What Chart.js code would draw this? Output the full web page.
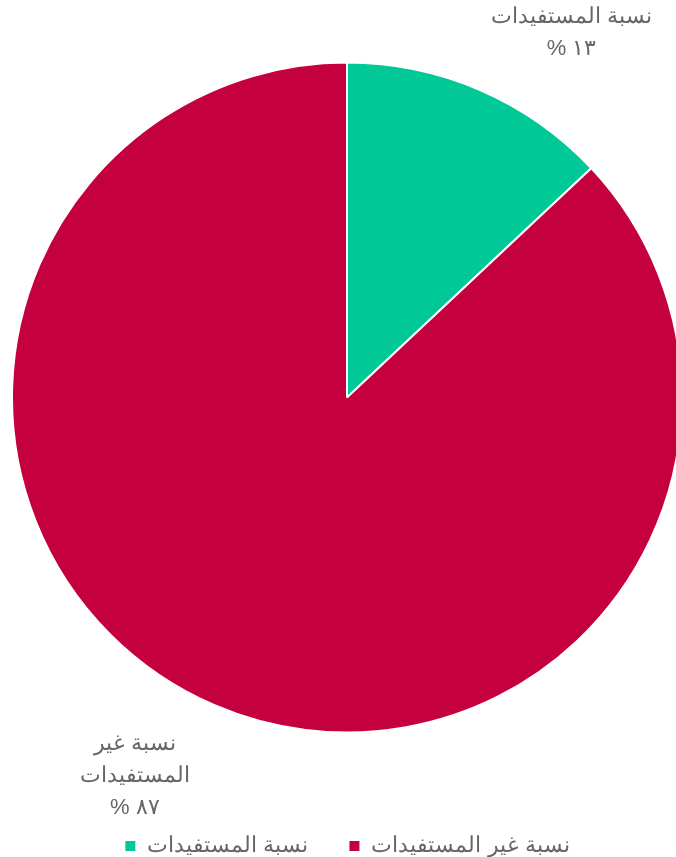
<!DOCTYPE html>
<html lang="ar">
<head>
<meta charset="utf-8">
<script src="https://cdn.jsdelivr.net/npm/chart.js@4"></script>
<style>
  html, body { margin: 0; padding: 0; overflow: hidden; background: #fff; }
  #canvas { display: block; margin-left: 11px; }
</style>
</head>
<body>
<canvas id="canvas" width="672" height="867"></canvas>
<script>
const categories = ['نسبة المستفيدات', 'نسبة غير المستفيدات']
const values = [13, 87]
const colors = ['#00c897', '#c5003e']

const fontFamily = 'Arial, sans-serif'
const fontSize = 22

// 13 -> ١٣
function arabicDigits(n) {
  return String(n).replace(/\d/g, d => '٠١٢٣٤٥٦٧٨٩'[d])
}

// split a label into lines no wider than maxWidth
function wrapText(ctx, text, maxWidth) {
  const words = text.split(' ')
  const lines = []
  let line = ''
  words.forEach(word => {
    const test = line ? line + ' ' + word : word
    if (line && ctx.measureText(test).width > maxWidth) {
      lines.push(line)
      line = word
    } else {
      line = test
    }
  })
  if (line) lines.push(line)
  return lines
}

// name + percentage drawn outside each slice
const sliceLabels = {
  id: 'sliceLabels',
  afterDatasetsDraw(chart) {
    const ctx = chart.ctx
    const meta = chart.getDatasetMeta(0)
    const lineHeight = 32
    ctx.save()
    ctx.font = fontSize + 'px ' + fontFamily
    ctx.fillStyle = '#666'
    ctx.textAlign = 'center'
    ctx.textBaseline = 'middle'
    ctx.direction = 'rtl'
    meta.data.forEach((arc, i) => {
      const p = arc.getProps(['x', 'y', 'startAngle', 'endAngle', 'outerRadius'], true)
      const lines = wrapText(ctx, categories[i], 180)
      lines.push(arabicDigits(values[i]) + ' %')
      const w = Math.max(...lines.map(l => ctx.measureText(l).width))
      const h = lines.length * lineHeight
      const angle = (p.startAngle + p.endAngle) / 2 + 0.096
      const vx = Math.cos(angle)
      const vy = Math.sin(angle)
      const dist = p.outerRadius + 49
      const cx = p.x + vx * dist + vx * w / 2
      const cy = p.y + vy * dist + vy * h / 2
      lines.forEach((l, j) => {
        ctx.fillText(l, cx, cy - h / 2 + lineHeight / 2 + j * lineHeight)
      })
    })
    ctx.restore()
  }
}

const ctx = document.getElementById('canvas')

new Chart(ctx, {
  type: 'pie',
  data: {
    labels: categories,
    datasets: [{
      data: values,
      backgroundColor: colors,
      borderColor: '#fff',
      borderWidth: 2
    }]
  },
  options: {
    responsive: false,
    animation: false,
    layout: { padding: 0 },
    plugins: {
      tooltip: { enabled: false },
      legend: {
        position: 'bottom',
        labels: {
          boxWidth: 12,
          boxHeight: 12,
          padding: 40,
          color: '#666',
          font: { family: fontFamily, size: fontSize }
        }
      }
    }
  },
  plugins: [sliceLabels]
});
</script>
</body>
</html>
